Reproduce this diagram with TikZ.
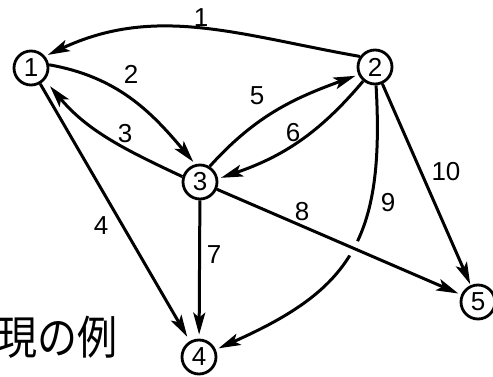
\documentclass[tikz,border=0pt]{standalone}
\usepackage{fontspec}
\setmainfont{Liberation Sans}
\newfontfamily\cjkfont{Noto Sans CJK JP}
\usetikzlibrary{arrows.meta}
\begin{document}
\begin{tikzpicture}[x=1pt,y=-1pt,
  vertex/.style={circle,draw,line width=2.8pt,fill=white,minimum size=34pt,inner sep=0pt,font=\fontsize{26}{26}\selectfont},
  edge/.style={line width=3pt,-{Stealth[length=22pt,width=12pt,inset=5pt]},shorten >=3pt},
  elabel/.style={font=\fontsize{26}{26}\selectfont,inner sep=0pt}]
\clip (0,0) rectangle (493,377);
% nodes
\node[vertex] (n1) at (31,68) {1};
\node[vertex] (n2) at (375,67) {2};
\node[vertex] (n3) at (200,182) {3};
\node[vertex] (n4) at (199,357) {4};
\node[vertex] (n5) at (478,302) {5};
% edges
\draw[edge] (n2.145) to[out=170,in=25] (n1.40);
\draw[edge] (n1.10) to[out=-10,in=130] (n3.105);
\draw[edge,shorten >=8pt] (n3.163) to[out=155,in=-50] (n1.-41);
\draw[edge,shorten >=5pt] (n1) -- (n4);
\draw[edge] (n3.58) to[out=48,in=200] (n2.205);
\draw[edge] (n2.230) to[out=-130,in=19] (n3.10);
\draw[edge,shorten >=4pt] (n3) -- (n4);
\draw[edge] (n2) .. controls (385,240) and (350,290) .. (n4);
\draw[edge,preaction={draw=white,line width=16pt,shorten <=80pt,shorten >=80pt,-}] (n3) -- (n5);
\draw[edge,shorten >=1pt] (n2) -- (n5);
% edge labels
\node[elabel] (l1) at (201,18) {1};
\node[elabel] (l2) at (131,74) {2};
\node[elabel] (l3) at (125,134) {3};
\node[elabel] (l4) at (101,226) {4};
\node[elabel] (l5) at (257,96) {5};
\node[elabel] (l6) at (293,133) {6};
\node[elabel] (l7) at (214,255) {7};
\node[elabel] (l8) at (302,212) {8};
\node[elabel] (l9) at (388,203) {9};
\node[elabel] (l10) at (446,172) {10};
% caption fragment (cut off at the left edge, as in the reference)
\node[anchor=base west,inner sep=0pt,font=\cjkfont\fontsize{40}{40}\selectfont] (jp) at (-3,354) {\scalebox{1}[1.15]{現の例}};
\end{tikzpicture}
\end{document}
